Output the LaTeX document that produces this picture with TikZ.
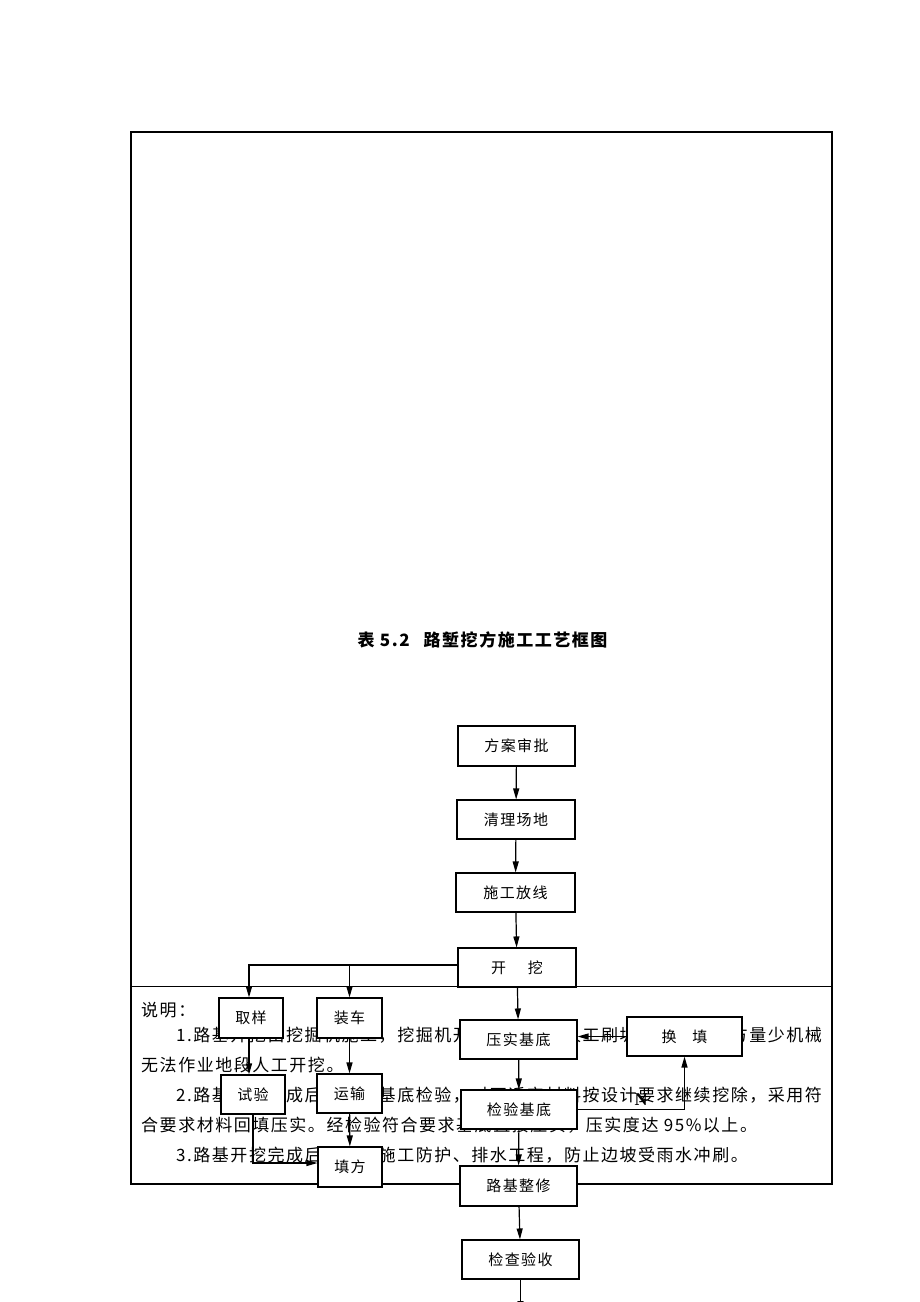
\documentclass[tikz,border=0pt]{standalone}
\usepackage{fontspec}
\setmainfont{Noto Sans CJK SC}[LetterSpace=9]
\newfontfamily\latinserif{Liberation Serif}
\usetikzlibrary{arrows.meta}
\begin{document}
\begin{tikzpicture}[x=1pt,y=-1pt,
 box/.style={draw, line width=1.1pt, fill=white, inner sep=0pt, font=\fontsize{15}{17}\selectfont},
 arr/.style={line width=1.2pt, -{Triangle[length=11pt,width=6pt]}},
 note/.style={anchor=west, inner sep=0pt, font=\fontsize{17}{19}\selectfont}]
\useasboundingbox (0,0) rectangle (920,1302);
% frame
\draw[line width=2pt] (131,132) rectangle (832,1184);
\draw[line width=1.2pt] (131,986.5) -- (832,986.5);
% title
\node[inner sep=0pt, font=\fontsize{17}{19}\selectfont\bfseries] (title) at (482.5,640) {表 5.2\hspace{14pt}路堑挖方施工工艺框图};
% notes
\node[note] (n0) at (141,1010) {说明：};
\node[note] (n1) at (176,1035) {1.路基开挖由挖掘机施工，挖掘机开挖、装车，人工刷坡、修整，土方量少机械};
\node[note] (n2) at (141,1065) {无法作业地段人工开挖。};
\node[note] (n3) at (176,1095) {2.路基开挖完成后，进行基底检验，对不适宜材料按设计要求继续挖除，采用符};
\node[note] (n4) at (141,1125) {合要求材料回填压实。经检验符合要求基底直接压实，压实度达 95\%以上。};
\node[note] (n5) at (176,1155) {3.路基开挖完成后，及时施工防护、排水工程，防止边坡受雨水冲刷。};
% main column
\node[box, minimum width=117pt, minimum height=40pt] (b1) at (516.5,746) {方案审批};
\node[box, minimum width=118pt, minimum height=39pt] (b2) at (516,819.5) {清理场地};
\node[box, minimum width=119pt, minimum height=39pt] (b3) at (515.5,892.5) {施工放线};
\node[box, minimum width=118pt, minimum height=39pt] (b4) at (517,967.5) {开\hspace{22pt}挖};
\node[box, minimum width=117pt, minimum height=39pt] (b5) at (518.5,1039.5) {压实基底};
\node[box, minimum width=116pt, minimum height=39pt] (b6) at (519,1109.5) {检验基底};
\node[box, minimum width=117pt, minimum height=40pt] (b7) at (518.5,1186) {路基整修};
\node[box, minimum width=117pt, minimum height=39pt] (b8) at (520.5,1259.5) {检查验收};
\node[box, minimum width=115pt, minimum height=39pt] (h) at (684.5,1036.5) {换\hspace{16pt}填};
% side column
\node[box, minimum width=64pt, minimum height=40pt] (q) at (251,1018) {取样};
\node[box, minimum width=65pt, minimum height=40pt] (z) at (349.5,1018) {装车};
\node[box, minimum width=64pt, minimum height=39pt] (s) at (253,1094.5) {试验};
\node[box, minimum width=65pt, minimum height=39pt] (y) at (349.5,1093.5) {运输};
\node[box, minimum width=64pt, minimum height=40pt] (t) at (350,1167) {填方};
\coordinate (j2) at (349.5,965);
\coordinate (endp) at (520.5,1312);
% connectors
\draw[arr] (b1) -- (b2);
\draw[arr] (b2) -- (b3);
\draw[arr] (b3) -- (b4);
\draw[arr] (b4) -- (b5);
\draw[arr] (b5) -- (b6);
\draw[arr] (b6) -- (b7);
\draw[arr] (b7) -- (b8);
\draw[arr] (b8) -- (endp);
\draw[arr] ([yshift=2.5pt]b4.west) -| ([xshift=-2pt]q.north);
\draw[arr] (j2) -- (z.north);
\draw[arr] ([xshift=-2pt]q.south) -- ([xshift=-2pt]q.south |- s.north);
\draw[arr] (z) -- (y);
\draw[arr] (y) -- (t);
\draw[arr] (s.south) |- ([yshift=4pt]t.west);
\draw[arr] (h.west) -- (h.west -| b5.east);
\draw[arr] (b6.east) -| (h.south);
\node[inner sep=0pt, font=\latinserif\fontsize{18}{18}\selectfont\bfseries] (nlab) at (641,1100) {N};
\end{tikzpicture}
\end{document}
